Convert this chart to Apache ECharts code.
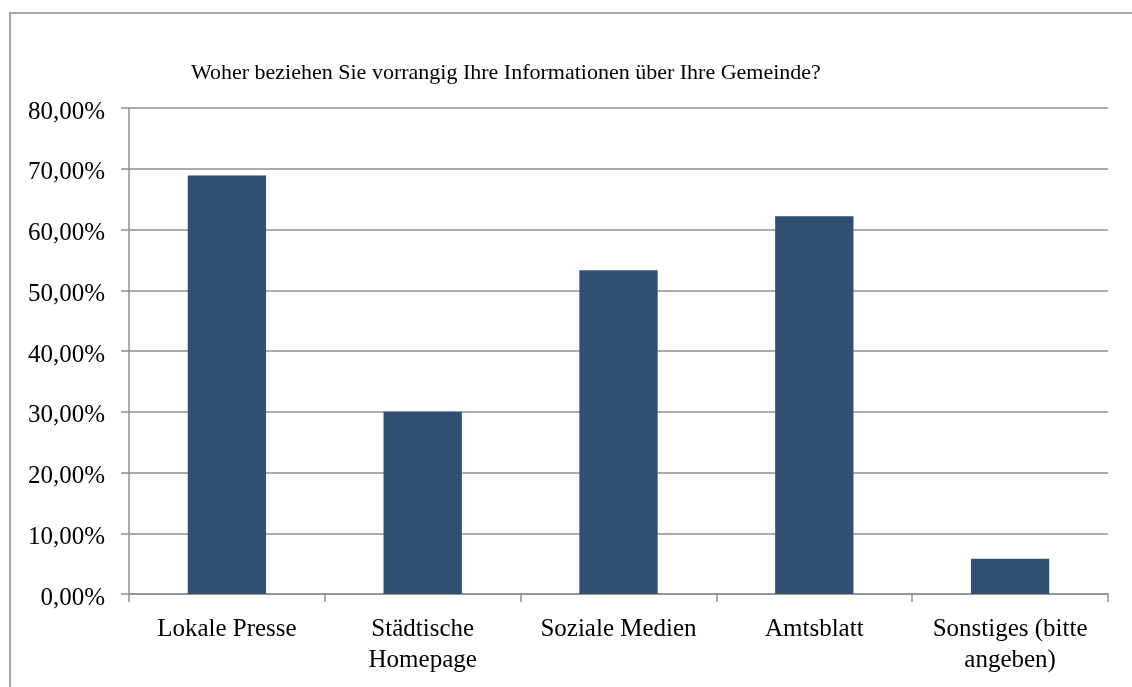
<!DOCTYPE html>
<html>
<head>
<meta charset="utf-8">
<script src="https://cdn.jsdelivr.net/npm/echarts@6/dist/echarts.min.js"></script>
<style>
html,body{margin:0;padding:0;background:#fff;}
#chart{width:1132px;height:687px;}
</style>
</head>
<body>
<div id="chart"></div>
<script>
var titleText = 'Woher beziehen Sie vorrangig Ihre Informationen über Ihre Gemeinde?';
var categories = ['Lokale Presse', 'Städtische\nHomepage', 'Soziale Medien', 'Amtsblatt', 'Sonstiges (bitte\nangeben)'];
var values = [68.9, 30.0, 53.3, 62.2, 5.8];
var yMin = 0, yMax = 80, yStep = 10;

var FONT = '"Liberation Serif", "Times New Roman", serif';
var chart = echarts.init(document.getElementById('chart'), null, {renderer: 'canvas'});
chart.setOption({
  animation: false,
  backgroundColor: '#fff',
  title: {
    text: titleText,
    left: 186,
    top: 57,
    textStyle: {fontFamily: FONT, fontSize: 22, fontWeight: 'normal', color: '#000'}
  },
  graphic: [{
    type: 'rect',
    shape: {x: 10, y: 13, width: 1300, height: 900},
    style: {fill: 'none', stroke: '#a6a6a6', lineWidth: 2},
    silent: true
  }],
  grid: {left: 129, right: 24, top: 108, bottom: 93, containLabel: false},
  xAxis: {
    type: 'category',
    data: categories,
    axisLine: {show: true, lineStyle: {color: '#8f8f8f', width: 1.5}},
    axisTick: {show: true, length: 8, lineStyle: {color: '#8f8f8f', width: 1.5}},
    axisLabel: {
      interval: 0, margin: 20,
      fontFamily: FONT, fontSize: 25, color: '#000', lineHeight: 31
    }
  },
  yAxis: {
    type: 'value',
    min: yMin, max: yMax, interval: yStep,
    axisLine: {show: true, lineStyle: {color: '#8f8f8f', width: 1.5}},
    axisTick: {show: true, length: 8, lineStyle: {color: '#8f8f8f', width: 1.5}},
    splitLine: {show: true, lineStyle: {color: '#8f8f8f', width: 1.5}},
    axisLabel: {
      margin: 24,
      verticalAlign: 'top',
      lineHeight: 8,
      fontFamily: FONT, fontSize: 25, color: '#000',
      formatter: function (v) { return v.toFixed(2).replace('.', ',') + '%'; }
    }
  },
  series: [{
    type: 'bar',
    data: values,
    barWidth: '40%',
    itemStyle: {color: '#2f5072'}
  }]
});
</script>
</body>
</html>
